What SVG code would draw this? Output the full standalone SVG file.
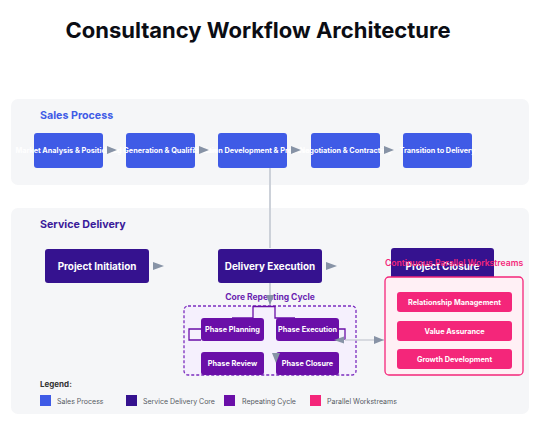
<svg xmlns="http://www.w3.org/2000/svg" width="547" height="429" viewBox="0 0 547 429">
<defs>
<style>
text{font-family:Inter,"Liberation Sans",Arial,sans-serif;}
.title{font-size:22px;font-weight:700;fill:#0b0d14;}
.panel{fill:#f5f6f8;}
.plabel{font-size:10.7px;font-weight:700;}
.sales{fill:#3f5be6;}
.core{fill:#35128f;}
.cyc{fill:#6a0fa8;}
.par{fill:#f4267a;}
.wt{fill:#fff;font-weight:700;text-anchor:middle;}
.s7{font-size:7.3px;}
.s8{font-size:9.9px;}
.s7b{font-size:7.3px;}
.arrowhead{fill:#8793a6;}
.conn{stroke:#ccd1d9;stroke-width:2;fill:none;}
.pl{stroke:#6a0fa8;stroke-width:1.3;fill:none;}
.leg{font-size:7px;fill:#555a63;}
</style>
<marker id="ah" markerWidth="10" markerHeight="8" refX="10" refY="4" orient="auto" markerUnits="userSpaceOnUse">
<path d="M0,0 L10,4 L0,8 Z" fill="#8793a6"/>
</marker>
</defs>
<rect width="547" height="429" fill="#fff"/>
<text class="title" x="258" y="38" text-anchor="middle">Consultancy Workflow Architecture</text>

<g id="sales-panel">
<rect class="panel" x="11" y="99" width="518" height="86" rx="7"/>
<text class="plabel" x="40" y="119" fill="#3f5be6">Sales Process</text>
</g>
<g id="service-panel">
<rect class="panel" x="11" y="208" width="518" height="206" rx="7"/>
<text class="plabel" x="40" y="228" fill="#3a1a9a">Service Delivery</text>
</g>

<g id="s1"><rect class="sales" x="34" y="133" width="69" height="35" rx="3"/><text class="wt s7" x="68.5" y="153">Market Analysis &amp; Positioning</text></g>
<g id="s2"><rect class="sales" x="126" y="133" width="69" height="35" rx="3"/><text class="wt s7" x="160.5" y="153">Lead Generation &amp; Qualification</text></g>
<g id="s3"><rect class="sales" x="218" y="133" width="69" height="35" rx="3"/><text class="wt s7" x="252.5" y="153">Solution Development &amp; Proposal</text></g>
<g id="s4"><rect class="sales" x="311" y="133" width="69" height="35" rx="3"/><text class="wt s7" x="345.5" y="153">Negotiation &amp; Contracting</text></g>
<g id="s5"><rect class="sales" x="403" y="133" width="69" height="35" rx="3"/><text class="wt s7" x="437.5" y="153">Transition to Delivery</text></g>

<g id="initiation"><rect class="core" x="45" y="249" width="104" height="34" rx="3"/><text class="wt s8" x="97" y="269.5">Project Initiation</text></g>
<g id="execution"><rect class="core" x="218" y="249" width="104" height="34" rx="3"/><text class="wt s8" x="270" y="269.5">Delivery Execution</text></g>
<g id="closure"><rect class="core" x="391" y="248" width="103" height="34" rx="3"/><text class="wt s8" x="442.5" y="269.5">Project Closure</text></g>

<g id="cycle">
<rect x="184" y="306" width="172" height="69" rx="4" fill="#f5f0fd" stroke="#7b2cbf" stroke-width="1.3" stroke-dasharray="3,2"/>
<text x="270" y="300" text-anchor="middle" font-size="8.5" font-weight="700" fill="#6a1fb0">Core Repeating Cycle</text>
</g>

<g id="parallel">
<rect x="385" y="277" width="138" height="98" rx="4" fill="#fff0f5" stroke="#f4267a" stroke-width="1.3"/>
<text x="454" y="266" text-anchor="middle" font-size="8.6" font-weight="600" fill="#f4267a">Continuous Parallel Workstreams</text>
</g>

<g id="planning"><rect class="cyc" x="201" y="318" width="63" height="23" rx="3"/><text class="wt s7b" x="232.5" y="332">Phase Planning</text></g>
<g id="phase-execution"><rect class="cyc" x="276" y="318" width="63" height="23" rx="3"/><text class="wt s7b" x="307.5" y="332">Phase Execution</text></g>
<g id="review"><rect class="cyc" x="201" y="352" width="63" height="23" rx="3"/><text class="wt s7b" x="232.5" y="366">Phase Review</text></g>
<g id="phase-closure"><rect class="cyc" x="276" y="352" width="63" height="23" rx="3"/><text class="wt s7b" x="307.5" y="366">Phase Closure</text></g>

<g id="w1"><rect class="par" x="397" y="292" width="115" height="20" rx="3"/><text class="wt s7b" x="454.5" y="304.5">Relationship Management</text></g>
<g id="w2"><rect class="par" x="397" y="321" width="115" height="20" rx="3"/><text class="wt s7b" x="454.5" y="333.5">Value Assurance</text></g>
<g id="w3"><rect class="par" x="397" y="349" width="115" height="20" rx="3"/><text class="wt s7b" x="454.5" y="361.5">Growth Development</text></g>

<g id="connectors">
<path class="conn" d="M270 168 V248"/>
<path class="conn" d="M270 283 V305" marker-end="url(#ah)"/>
<polygon class="arrowhead" points="107,146 107,154 117,150"/>
<polygon class="arrowhead" points="199,146 199,154 209,150"/>
<polygon class="arrowhead" points="291,146 291,154 301,150"/>
<polygon class="arrowhead" points="384,146 384,154 394,150"/>
<polygon class="arrowhead" points="153,262 153,270 164,266"/>
<polygon class="arrowhead" points="326,262 326,270 337,266"/>
<path class="pl" d="M232 318 H253 V306.5 H275 V318 H295"/>
<path class="pl" d="M201 329 H189 V340 H201"/>
<path class="pl" d="M338 329 H345 V340"/>
<path stroke="#ccd1d9" stroke-width="1.5" fill="none" d="M345 340 H384" marker-end="url(#ah)"/>
<polygon class="arrowhead" points="344,336.5 344,343.5 334,340"/>
<polygon class="arrowhead" points="272,353 280,353 276,363"/>
</g>

<g id="legend">
<text x="40" y="387" font-size="8" font-weight="700" fill="#333">Legend:</text>
<rect class="sales" x="40" y="395" width="11" height="11"/>
<text class="leg" x="57" y="404">Sales Process</text>
<rect class="core" x="126" y="395" width="11" height="11"/>
<text class="leg" x="143" y="404">Service Delivery Core</text>
<rect class="cyc" x="224" y="395" width="11" height="11"/>
<text class="leg" x="242" y="404">Repeating Cycle</text>
<rect class="par" x="310" y="395" width="11" height="11"/>
<text class="leg" x="327" y="404">Parallel Workstreams</text>
</g>
</svg>
